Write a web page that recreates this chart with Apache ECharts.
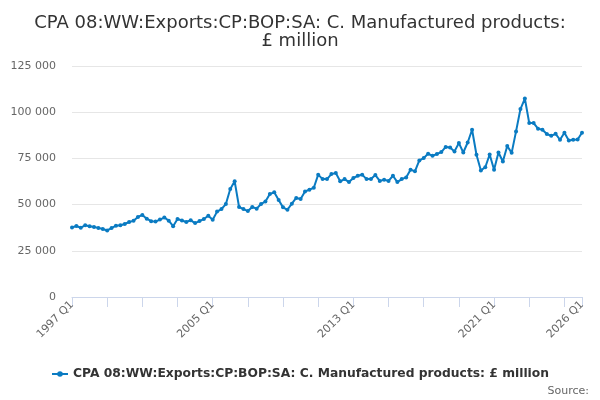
<!DOCTYPE html>
<html>
<head>
<meta charset="utf-8">
<script src="https://cdn.jsdelivr.net/npm/echarts@6/dist/echarts.min.js"></script>
<style>
html,body{margin:0;padding:0;background:#fff;}
#chart{width:600px;height:400px;}
</style>
</head>
<body>
<div id="chart"></div>
<script>
const titleText = "CPA 08:WW:Exports:CP:BOP:SA: C. Manufactured products:\n£ million";
const seriesName = "CPA 08:WW:Exports:CP:BOP:SA: C. Manufactured products: £ million";
const startYear = 1997;
const endYear = 2026;
const categories = [];
for (let y = startYear; y <= endYear; y++) {
  for (let q = 1; q <= 4; q++) {
    if (y === endYear && q > 1) break;
    categories.push(y + " Q" + q);
  }
}
const values = [
  37600, 38400, 37500, 38800, 38300, 37900, 37400, 36800, 36000, 37300,
  38600, 38800, 39500, 40600, 41200, 43300, 44400, 42400, 41000, 40800,
  41900, 43000, 41300, 38300, 42200, 41400, 40600, 41500, 40000, 41100,
  42200, 44000, 41800, 46200, 47600, 50300, 58400, 62600, 48700, 47600,
  46500, 48700, 47800, 50300, 51700, 55700, 56700, 52500, 48500, 47200,
  50500, 53600, 53000, 57100, 58100, 59100, 66200, 63800, 63800, 66500,
  67100, 62600, 63800, 62200, 64400, 65600, 66200, 63800, 63800, 66000,
  62800, 63500, 62800, 65600, 62200, 63800, 64700, 68900, 68000, 73900,
  75200, 77500, 76400, 77400, 78400, 81200, 80900, 78800, 83300, 78200,
  83600, 90500, 77000, 68500, 70200, 77100, 68900, 78200, 73300, 81700,
  78000, 89600, 101700, 107400, 94100, 94100, 91100, 90500, 88200, 87200,
  88300, 85100, 88900, 84700, 85100, 85200, 88900
];
const yTicks = [0, 25000, 50000, 75000, 100000, 125000];
const labelEvery = 32;
const tickEvery = 8;
const lastIndex = categories.length - 1;

const chart = echarts.init(document.getElementById('chart'), null, {renderer: 'canvas'});
const font = "'DejaVu Sans', sans-serif";
chart.setOption({
  animation: false,
  backgroundColor: '#ffffff',
  title: {
    text: titleText,
    left: 'center',
    top: 9,
    textStyle: {fontFamily: font, fontSize: 18, fontWeight: 'normal', color: '#333333', lineHeight: 18}
  },
  legend: {
    data: [seriesName],
    bottom: 15,
    left: 'center',
    itemWidth: 16,
    itemHeight: 7,
    itemGap: 6,
    textStyle: {fontFamily: font, fontSize: 12.3, fontWeight: 'bold', color: '#333333'}
  },
  graphic: [{
    type: 'text',
    right: 11,
    top: 386,
    style: {text: 'Source:', fontFamily: font, fontSize: 11, fill: '#666666'}
  }],
  grid: {left: 72, right: 18, top: 66, bottom: 103, containLabel: false},
  xAxis: {
    type: 'category',
    data: categories,
    boundaryGap: false,
    axisLine: {show: true, lineStyle: {color: '#ccd6eb', width: 1}},
    axisTick: {
      show: true, length: 10, lineStyle: {color: '#ccd6eb'},
      interval: function (i) { return i % tickEvery === 0 || i === lastIndex; }
    },
    axisLabel: {
      rotate: 45,
      margin: 6,
      fontFamily: font, fontSize: 11, color: '#666666',
      interval: function (i) { return i % labelEvery === 0 || i === lastIndex; }
    },
    splitLine: {show: false}
  },
  yAxis: {
    type: 'value',
    min: yTicks[0],
    max: yTicks[yTicks.length - 1],
    interval: yTicks[1] - yTicks[0],
    axisLine: {show: false},
    axisTick: {show: false},
    axisLabel: {
      margin: 16,
      fontFamily: font, fontSize: 11, color: '#666666',
      formatter: function (v) { return String(v).replace(/\B(?=(\d{3})+(?!\d))/g, ' '); }
    },
    splitLine: {lineStyle: {color: '#e6e6e6', width: 1}}
  },
  series: [{
    name: seriesName,
    type: 'line',
    data: values,
    symbol: 'circle',
    symbolSize: 4,
    showSymbol: true,
    showAllSymbol: true,
    lineStyle: {color: '#0a7bc2', width: 2},
    itemStyle: {color: '#0a7bc2'}
  }]
});
</script>
</body>
</html>
